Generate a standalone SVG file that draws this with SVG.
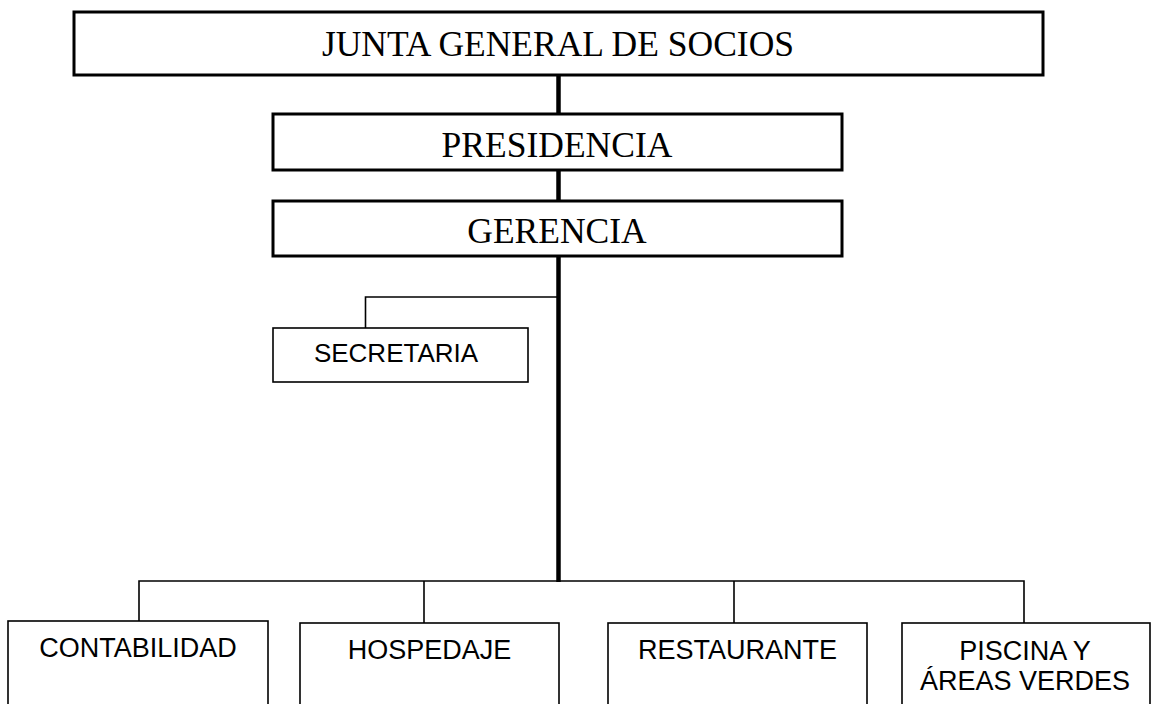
<svg xmlns="http://www.w3.org/2000/svg" width="1156" height="704" viewBox="0 0 1156 704">
<style>
.bg{fill:#fff}
.top{fill:#fff;stroke:#000;stroke-width:3}
.box{fill:#fff;stroke:#000;stroke-width:1.6}
.serif{font-family:"Liberation Serif","Times New Roman",serif;font-size:35.5px;fill:#000;text-anchor:middle}
.sans{font-family:"Liberation Sans",Arial,sans-serif;font-size:27px;fill:#000;text-anchor:middle}
.thick{stroke:#000;stroke-width:4.5;fill:none}
.thin{stroke:#000;stroke-width:1.6;fill:none}
</style>
<rect class="bg" x="0" y="0" width="1156" height="704"/>
<g id="connectors">
<line class="thick" x1="558.5" y1="75" x2="558.5" y2="582"/>
<polyline class="thin" points="558,297 365.5,297 365.5,328"/>
<polyline class="thin" points="139,621 139,581 1024,581 1024,623"/>
<line class="thin" x1="424" y1="581" x2="424" y2="623"/>
<line class="thin" x1="734" y1="581" x2="734" y2="623"/>
</g>
<g id="junta">
<rect class="top" x="74" y="12" width="969" height="63"/>
<text class="serif" x="558" y="56">JUNTA GENERAL DE SOCIOS</text>
</g>
<g id="presidencia">
<rect class="top" x="273" y="114" width="569" height="56"/>
<text class="serif" x="557" y="157">PRESIDENCIA</text>
</g>
<g id="gerencia">
<rect class="top" x="273" y="201" width="569" height="55"/>
<text class="serif" x="557" y="243">GERENCIA</text>
</g>
<g id="secretaria">
<rect class="box" x="273" y="328" width="255" height="54"/>
<text class="sans" x="396" y="362" style="font-size:26px">SECRETARIA</text>
</g>
<g id="contabilidad">
<rect class="box" x="8" y="621" width="260" height="100"/>
<text class="sans" x="138" y="657">CONTABILIDAD</text>
</g>
<g id="hospedaje">
<rect class="box" x="300" y="623" width="259" height="100"/>
<text class="sans" x="429.5" y="659">HOSPEDAJE</text>
</g>
<g id="restaurante">
<rect class="box" x="608" y="623" width="259" height="100"/>
<text class="sans" x="737.5" y="659">RESTAURANTE</text>
</g>
<g id="piscina">
<rect class="box" x="902" y="623" width="248" height="100"/>
<text class="sans" x="1025" y="660">PISCINA Y</text>
<text class="sans" x="1025" y="690">ÁREAS VERDES</text>
</g>
</svg>
